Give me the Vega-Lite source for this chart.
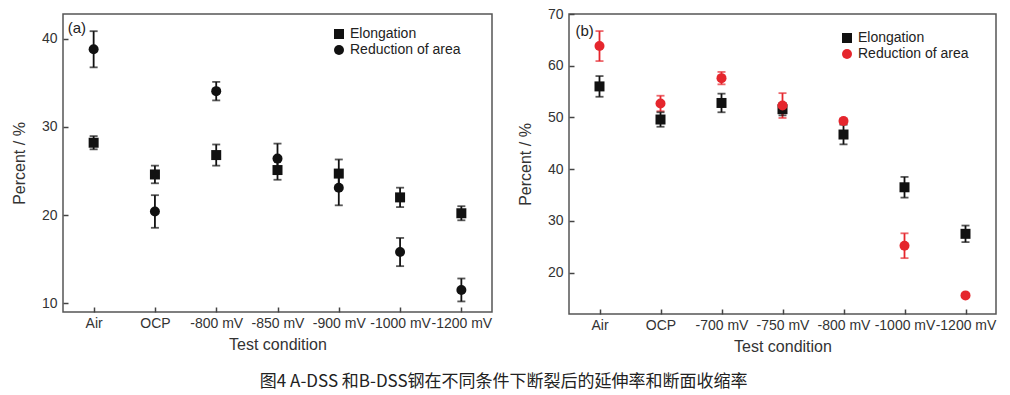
{
  "$schema": "https://vega.github.io/schema/vega-lite/v6.json",
  "background": "white",
  "padding": {"left": 10, "top": 6, "right": 5, "bottom": 5},
  "datasets": {
    "a": [
      {"cond": "Air", "series": "Elongation", "value": 28.2, "lo": 27.45, "hi": 28.95},
      {"cond": "OCP", "series": "Elongation", "value": 24.6, "lo": 23.6, "hi": 25.6},
      {"cond": "-800 mV", "series": "Elongation", "value": 26.8, "lo": 25.6, "hi": 28.0},
      {"cond": "-850 mV", "series": "Elongation", "value": 25.1, "lo": 24.0, "hi": 26.2},
      {"cond": "-900 mV", "series": "Elongation", "value": 24.7, "lo": 23.1, "hi": 26.3},
      {"cond": "-1000 mV", "series": "Elongation", "value": 22.0, "lo": 20.9, "hi": 23.1},
      {"cond": "-1200 mV", "series": "Elongation", "value": 20.2, "lo": 19.4, "hi": 21.0},
      {"cond": "Air", "series": "Reduction of area", "value": 38.8, "lo": 36.75, "hi": 40.85},
      {"cond": "OCP", "series": "Reduction of area", "value": 20.4, "lo": 18.55, "hi": 22.25},
      {"cond": "-800 mV", "series": "Reduction of area", "value": 34.05, "lo": 33.0, "hi": 35.1},
      {"cond": "-850 mV", "series": "Reduction of area", "value": 26.4, "lo": 24.7, "hi": 28.1},
      {"cond": "-900 mV", "series": "Reduction of area", "value": 23.1, "lo": 21.1, "hi": 25.1},
      {"cond": "-1000 mV", "series": "Reduction of area", "value": 15.8, "lo": 14.2, "hi": 17.4},
      {"cond": "-1200 mV", "series": "Reduction of area", "value": 11.5, "lo": 10.2, "hi": 12.8}
    ],
    "b": [
      {"cond": "Air", "series": "Elongation", "value": 56.0, "lo": 54.0, "hi": 58.0},
      {"cond": "OCP", "series": "Elongation", "value": 49.6, "lo": 48.2, "hi": 51.0},
      {"cond": "-700 mV", "series": "Elongation", "value": 52.8, "lo": 51.0, "hi": 54.6},
      {"cond": "-750 mV", "series": "Elongation", "value": 51.6, "lo": 50.4, "hi": 52.8},
      {"cond": "-800 mV", "series": "Elongation", "value": 46.7, "lo": 44.8, "hi": 48.6},
      {"cond": "-1000 mV", "series": "Elongation", "value": 36.5, "lo": 34.5, "hi": 38.5},
      {"cond": "-1200 mV", "series": "Elongation", "value": 27.5, "lo": 25.9, "hi": 29.1},
      {"cond": "Air", "series": "Reduction of area", "value": 63.8, "lo": 60.9, "hi": 66.7},
      {"cond": "OCP", "series": "Reduction of area", "value": 52.7, "lo": 51.2, "hi": 54.2},
      {"cond": "-700 mV", "series": "Reduction of area", "value": 57.6, "lo": 56.4, "hi": 58.8},
      {"cond": "-750 mV", "series": "Reduction of area", "value": 52.3, "lo": 49.9, "hi": 54.7},
      {"cond": "-800 mV", "series": "Reduction of area", "value": 49.3, "lo": 48.8, "hi": 49.8},
      {"cond": "-1000 mV", "series": "Reduction of area", "value": 25.2, "lo": 22.8, "hi": 27.6},
      {"cond": "-1200 mV", "series": "Reduction of area", "value": 15.6, "lo": 15.3, "hi": 15.9}
    ]
  },
  "title": {
    "text": "图4 A-DSS 和B-DSS钢在不同条件下断裂后的延伸率和断面收缩率",
    "orient": "bottom",
    "anchor": "middle",
    "font": "Noto Sans CJK SC",
    "fontSize": 17,
    "fontWeight": "normal",
    "color": "#222",
    "offset": 19
  },
  "config": {
    "font": "Liberation Sans",
    "view": {"stroke": "#555", "strokeWidth": 1.5},
    "axis": {
      "grid": false,
      "domain": false,
      "tickSize": -5,
      "tickColor": "#444",
      "tickWidth": 1.5,
      "labelFont": "Liberation Sans",
      "labelFontSize": 14,
      "labelColor": "#333",
      "titleFont": "Liberation Sans",
      "titleFontSize": 16,
      "titleFontWeight": "normal",
      "titleColor": "#333"
    },
    "axisX": {"labelPadding": 9, "labelAngle": 0, "titlePadding": 6},
    "axisY": {"labelPadding": 11, "titlePadding": 14},
    "legend": {
      "orient": "none",
      "labelFont": "Liberation Sans",
      "labelFontSize": 14,
      "labelColor": "#222",
      "title": null,
      "rowPadding": 2,
      "symbolStrokeWidth": 0,
      "symbolOpacity": 1
    }
  },
  "hconcat": [
    {
      "width": 429,
      "height": 298,
      "data": {"name": "a"},
      "layer": [
        {
          "mark": {"type": "rule", "strokeWidth": 1.8, "color": "#111"},
          "encoding": {
            "x": {"field": "cond", "type": "nominal"},
            "y": {"field": "lo", "type": "quantitative"},
            "y2": {"field": "hi"}
          }
        },
        {
          "mark": {"type": "tick", "size": 8, "thickness": 1.8, "color": "#111"},
          "encoding": {
            "x": {"field": "cond", "type": "nominal"},
            "y": {"field": "lo", "type": "quantitative"}
          }
        },
        {
          "mark": {"type": "tick", "size": 8, "thickness": 1.8, "color": "#111"},
          "encoding": {
            "x": {"field": "cond", "type": "nominal"},
            "y": {"field": "hi", "type": "quantitative"}
          }
        },
        {
          "mark": {"type": "point", "filled": true, "opacity": 1, "size": 100},
          "encoding": {
            "x": {"field": "cond", "type": "nominal"},
            "y": {"field": "value", "type": "quantitative"},
            "shape": {
              "field": "series", "type": "nominal",
              "scale": {"domain": ["Elongation", "Reduction of area"], "range": ["square", "circle"]},
              "legend": {"legendX": 269, "legendY": 13}
            },
            "color": {
              "field": "series", "type": "nominal",
              "scale": {"domain": ["Elongation", "Reduction of area"], "range": ["#111", "#111"]},
              "legend": {"legendX": 269, "legendY": 13}
            }
          }
        },
        {
          "data": {"values": [{"label": "(a)"}]},
          "mark": {"type": "text", "align": "left", "baseline": "middle", "dx": -26, "fontSize": 15, "font": "Liberation Sans", "color": "#222"},
          "encoding": {
            "x": {"datum": "Air", "type": "nominal"},
            "y": {"datum": 41.2, "type": "quantitative"},
            "text": {"field": "label"}
          }
        }
      ],
      "encoding": {
        "x": {
          "field": "cond", "type": "nominal",
          "sort": ["Air", "OCP", "-800 mV", "-850 mV", "-900 mV", "-1000 mV", "-1200 mV"],
          "scale": {"type": "point", "padding": 0.5, "domain": ["Air", "OCP", "-800 mV", "-850 mV", "-900 mV", "-1000 mV", "-1200 mV"]},
          "axis": {"title": "Test condition"}
        },
        "y": {
          "type": "quantitative",
          "scale": {"domain": [9, 42.8], "nice": false, "zero": false},
          "axis": {"title": "Percent / %", "values": [10, 20, 30, 40]}
        }
      }
    },
    {
      "width": 427,
      "height": 300,
      "data": {"name": "b"},
      "layer": [
        {
          "mark": {"type": "rule", "strokeWidth": 1.8},
          "encoding": {
            "x": {"field": "cond", "type": "nominal"},
            "y": {"field": "lo", "type": "quantitative"},
            "y2": {"field": "hi"},
            "color": {"field": "series", "type": "nominal"}
          }
        },
        {
          "mark": {"type": "tick", "size": 8, "thickness": 1.8},
          "encoding": {
            "x": {"field": "cond", "type": "nominal"},
            "y": {"field": "lo", "type": "quantitative"},
            "color": {"field": "series", "type": "nominal"}
          }
        },
        {
          "mark": {"type": "tick", "size": 8, "thickness": 1.8},
          "encoding": {
            "x": {"field": "cond", "type": "nominal"},
            "y": {"field": "hi", "type": "quantitative"},
            "color": {"field": "series", "type": "nominal"}
          }
        },
        {
          "mark": {"type": "point", "filled": true, "opacity": 1, "size": 100},
          "encoding": {
            "x": {"field": "cond", "type": "nominal"},
            "y": {"field": "value", "type": "quantitative"},
            "shape": {
              "field": "series", "type": "nominal",
              "scale": {"domain": ["Elongation", "Reduction of area"], "range": ["square", "circle"]},
              "legend": {"legendX": 271, "legendY": 17}
            },
            "color": {
              "field": "series", "type": "nominal",
              "scale": {"domain": ["Elongation", "Reduction of area"], "range": ["#111", "#e5262d"]},
              "legend": {"legendX": 271, "legendY": 17}
            }
          }
        },
        {
          "data": {"values": [{"label": "(b)"}]},
          "mark": {"type": "text", "align": "left", "baseline": "middle", "dx": -24, "fontSize": 15, "font": "Liberation Sans", "color": "#222"},
          "encoding": {
            "x": {"datum": "Air", "type": "nominal"},
            "y": {"datum": 66.8, "type": "quantitative"},
            "text": {"field": "label"}
          }
        }
      ],
      "encoding": {
        "x": {
          "field": "cond", "type": "nominal",
          "sort": ["Air", "OCP", "-700 mV", "-750 mV", "-800 mV", "-1000 mV", "-1200 mV"],
          "scale": {"type": "point", "padding": 0.5, "domain": ["Air", "OCP", "-700 mV", "-750 mV", "-800 mV", "-1000 mV", "-1200 mV"]},
          "axis": {"title": "Test condition"}
        },
        "y": {
          "type": "quantitative",
          "scale": {"domain": [12, 70], "nice": false, "zero": false},
          "axis": {"title": "Percent / %", "values": [20, 30, 40, 50, 60, 70]}
        }
      }
    }
  ],
  "spacing": 23,
  "resolve": {
    "scale": {"x": "independent", "y": "independent", "color": "independent", "shape": "independent"},
    "legend": {"color": "independent", "shape": "independent"}
  }
}
